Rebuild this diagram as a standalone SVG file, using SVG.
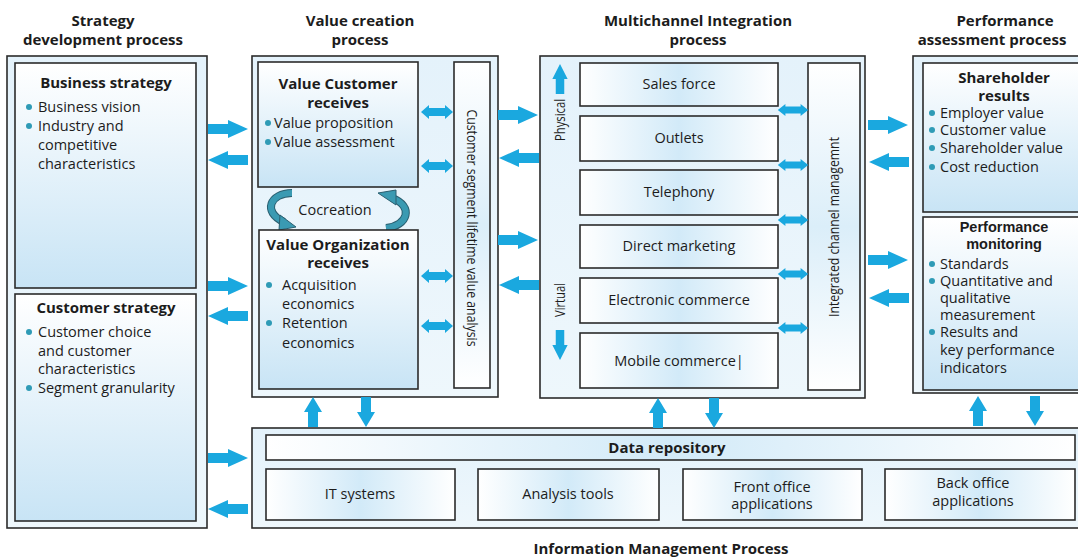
<svg xmlns="http://www.w3.org/2000/svg" width="1078" height="559" viewBox="0 0 1078 559">
<defs>
<linearGradient id="gOuter" x1="0" y1="0" x2="0" y2="1"><stop offset="0" stop-color="#e4f2fb"/><stop offset="1" stop-color="#eef7fc"/></linearGradient>
<linearGradient id="gInner" x1="0" y1="0" x2="0" y2="1"><stop offset="0" stop-color="#ffffff"/><stop offset="1" stop-color="#c8e4f5"/></linearGradient>
<linearGradient id="gChan" x1="0" y1="0" x2="1" y2="0"><stop offset="0" stop-color="#ffffff"/><stop offset="0.5" stop-color="#d2eaf8"/><stop offset="1" stop-color="#ffffff"/></linearGradient>
<linearGradient id="gBar" x1="0" y1="0" x2="0" y2="1"><stop offset="0" stop-color="#ffffff"/><stop offset="0.5" stop-color="#dbeef9"/><stop offset="1" stop-color="#ffffff"/></linearGradient>
<path id="A" d="M-20,-5 H0 V-9 L20,0 L0,9 V5 H-20 Z"/>
<path id="V" d="M-15,-5 H0 V-9 L15,0 L0,9 V5 H-15 Z"/>
<path id="D" d="M-16,0 L-8,-7 V-4 H8 V-7 L16,0 L8,7 V4 H-8 V7 Z"/>
</defs>
<style>
rect{stroke:#2b2b2b;stroke-width:1.6}
.outer{fill:url(#gOuter)}
.inner{fill:url(#gInner)}
.chan{fill:url(#gChan)}
.bar{fill:url(#gBar)}
text{font-family:"Open Sans","Liberation Sans",sans-serif;fill:#1c1c1c;font-size:14.5px}
.h{font-weight:bold;font-size:15px;text-anchor:middle}
.t{font-weight:bold;font-size:15px;text-anchor:middle}
.tn{font-family:"Liberation Sans",sans-serif;font-weight:bold;font-size:14.5px;text-anchor:middle}
.c{text-anchor:middle}
.arr{fill:#1aa8df}
.b{fill:#2f9bb6}
.cc{fill:none;stroke:#3a9ab2;stroke-width:6}
.cco{fill:none;stroke:#2a5f70;stroke-width:8}
</style>

<g id="headers">
<text class="h" x="103" y="26">Strategy</text>
<text class="h" x="103" y="45">development process</text>
<text class="h" x="360" y="26">Value creation</text>
<text class="h" x="360" y="45">process</text>
<text class="h" x="698" y="26">Multichannel Integration</text>
<text class="h" x="698" y="45">process</text>
<text class="h" x="1005" y="26">Performance</text>
<text class="h" x="992" y="45">assessment process</text>
</g>

<g id="strategy-development">
<rect class="outer" x="7" y="56" width="200" height="472"/>
<g id="business-strategy">
<rect class="inner" x="15" y="63" width="181" height="225"/>
<text class="t" x="106" y="88">Business strategy</text>
<circle class="b" cx="29" cy="107" r="3"/><text x="38" y="112">Business vision</text>
<circle class="b" cx="29" cy="126" r="3"/><text x="38" y="131">Industry and</text>
<text x="38" y="150">competitive</text>
<text x="38" y="169">characteristics</text>
</g>
<g id="customer-strategy">
<rect class="inner" x="15" y="294" width="181" height="227"/>
<text class="t" x="106" y="313">Customer strategy</text>
<circle class="b" cx="29" cy="332" r="3"/><text x="38" y="337">Customer choice</text>
<text x="38" y="356">and customer</text>
<text x="38" y="374">characteristics</text>
<circle class="b" cx="29" cy="388" r="3"/><text x="38" y="393">Segment granularity</text>
</g>
</g>

<g id="value-creation">
<rect class="outer" x="252" y="56" width="246" height="341"/>
<g id="value-customer">
<rect class="inner" x="258" y="62" width="160" height="125"/>
<text class="t" x="338" y="89">Value Customer</text>
<text class="t" x="338" y="108">receives</text>
<circle class="b" cx="268" cy="123" r="3"/><text x="274" y="128">Value proposition</text>
<circle class="b" cx="268" cy="142" r="3"/><text x="274" y="147">Value assessment</text>
</g>
<g id="cocreation">
<path class="cco" d="M292,193 C270,193 262,212 284,222"/>
<path class="cc" d="M292,193 C270,193 262,212 284,222"/>
<polygon fill="#3a9ab2" stroke="#2a5f70" stroke-width="1" points="280,215 296,227 279,230"/>
<path class="cco" d="M386,228 C408,226 414,206 392,198"/>
<path class="cc" d="M386,228 C408,226 414,206 392,198"/>
<polygon fill="#3a9ab2" stroke="#2a5f70" stroke-width="1" points="396,205 378,193 396,190"/>
<text class="c" x="335" y="215">Cocreation</text>
</g>
<g id="value-organization">
<rect class="inner" x="259" y="230" width="159" height="159"/>
<text class="t" x="338" y="250">Value Organization</text>
<text class="t" x="338" y="268">receives</text>
<circle class="b" cx="269" cy="285" r="3"/><text x="282" y="290">Acquisition</text>
<text x="282" y="309">economics</text>
<circle class="b" cx="269" cy="323" r="3"/><text x="282" y="328">Retention</text>
<text x="282" y="348">economics</text>
</g>
<g id="cslva">
<rect class="bar" x="454" y="62" width="36" height="326"/>
<text transform="translate(467,228) rotate(90)" text-anchor="middle" font-size="14" textLength="237" lengthAdjust="spacingAndGlyphs">Customer segment lifetime value analysis</text>
</g>
</g>

<g id="multichannel">
<rect class="outer" x="540" y="56" width="325" height="342"/>
<g id="sales-force"><rect class="chan" x="580" y="63" width="198" height="43"/><text class="c" x="679" y="89">Sales force</text></g>
<g id="outlets"><rect class="chan" x="580" y="116" width="198" height="45"/><text class="c" x="679" y="143">Outlets</text></g>
<g id="telephony"><rect class="chan" x="580" y="170" width="198" height="45"/><text class="c" x="679" y="197">Telephony</text></g>
<g id="direct-marketing"><rect class="chan" x="580" y="225" width="198" height="43"/><text class="c" x="679" y="251">Direct marketing</text></g>
<g id="electronic-commerce"><rect class="chan" x="580" y="278" width="198" height="45"/><text class="c" x="679" y="305">Electronic commerce</text></g>
<g id="mobile-commerce"><rect class="chan" x="580" y="333" width="198" height="55"/><text class="c" x="679" y="366">Mobile commerce|</text></g>
<g id="icm">
<rect class="bar" x="808" y="63" width="52" height="327"/>
<text transform="translate(839,227) rotate(-90)" text-anchor="middle" font-size="14" textLength="180" lengthAdjust="spacingAndGlyphs">Integrated channel managemnt</text>
</g>
<text transform="translate(565,120) rotate(-90)" text-anchor="middle" font-size="14" textLength="42" lengthAdjust="spacingAndGlyphs">Physical</text>
<text transform="translate(565,300) rotate(-90)" text-anchor="middle" font-size="14" textLength="34" lengthAdjust="spacingAndGlyphs">Virtual</text>
</g>

<g id="performance">
<rect class="outer" x="913" y="56" width="175" height="337"/>
<g id="shareholder-results">
<rect class="inner" x="923" y="63" width="165" height="149"/>
<text class="t" x="1004" y="83">Shareholder</text>
<text class="t" x="1004" y="101">results</text>
<circle class="b" cx="932" cy="113" r="3"/><text x="940" y="118">Employer value</text>
<circle class="b" cx="932" cy="130" r="3"/><text x="940" y="135">Customer value</text>
<circle class="b" cx="932" cy="148" r="3"/><text x="940" y="153">Shareholder value</text>
<circle class="b" cx="932" cy="167" r="3"/><text x="940" y="172">Cost reduction</text>
</g>
<g id="performance-monitoring">
<rect class="inner" x="923" y="217" width="165" height="173"/>
<text class="tn" x="1004" y="232">Performance</text>
<text class="tn" x="1004" y="249">monitoring</text>
<circle class="b" cx="932" cy="264" r="3"/><text x="940" y="269">Standards</text>
<circle class="b" cx="932" cy="281" r="3"/><text x="940" y="286">Quantitative and</text>
<text x="940" y="303">qualitative</text>
<text x="940" y="320">measurement</text>
<circle class="b" cx="932" cy="332" r="3"/><text x="940" y="337">Results and</text>
<text x="940" y="355">key performance</text>
<text x="940" y="373">indicators</text>
</g>
</g>

<g id="information-management">
<rect class="outer" x="252" y="428" width="836" height="100"/>
<g id="data-repository"><rect class="chan" x="266" y="435" width="809" height="25"/><text class="t" x="667" y="453">Data repository</text></g>
<g id="it-systems"><rect class="chan" x="266" y="469" width="189" height="51"/><text class="c" x="360" y="499">IT systems</text></g>
<g id="analysis-tools"><rect class="chan" x="478" y="469" width="181" height="51"/><text class="c" x="568" y="499">Analysis tools</text></g>
<g id="front-office"><rect class="chan" x="683" y="469" width="179" height="51"/><text class="c" x="772" y="492">Front office</text><text class="c" x="772" y="509">applications</text></g>
<g id="back-office"><rect class="chan" x="885" y="469" width="190" height="51"/><text class="c" x="973" y="488">Back office</text><text class="c" x="973" y="506">applications</text></g>
<text class="t" x="661" y="554">Information Management Process</text>
</g>

<g id="connectors" class="arr">
<use href="#A" transform="translate(228,129)"/>
<use href="#A" transform="translate(228,160) rotate(180)"/>
<use href="#A" transform="translate(228,286)"/>
<use href="#A" transform="translate(228,316) rotate(180)"/>
<use href="#A" transform="translate(228,458)"/>
<use href="#A" transform="translate(228,509) rotate(180)"/>
<use href="#A" transform="translate(518,115)"/>
<use href="#A" transform="translate(519,158) rotate(180)"/>
<use href="#A" transform="translate(518,240)"/>
<use href="#A" transform="translate(519,285) rotate(180)"/>
<use href="#A" transform="translate(888,125)"/>
<use href="#A" transform="translate(889,162) rotate(180)"/>
<use href="#A" transform="translate(888,260)"/>
<use href="#A" transform="translate(889,298) rotate(180)"/>
<use href="#D" transform="translate(437,112)"/>
<use href="#D" transform="translate(437,166)"/>
<use href="#D" transform="translate(437,276)"/>
<use href="#D" transform="translate(437,326)"/>
<use href="#D" transform="translate(793,110) scale(0.95,0.85)"/>
<use href="#D" transform="translate(793,165) scale(0.95,0.85)"/>
<use href="#D" transform="translate(793,220) scale(0.95,0.85)"/>
<use href="#D" transform="translate(793,274) scale(0.95,0.85)"/>
<use href="#D" transform="translate(793,328) scale(0.95,0.85)"/>
<use href="#V" transform="translate(560,79) rotate(-90) scale(1,0.85)"/>
<use href="#V" transform="translate(560,345) rotate(90) scale(1,0.85)"/>
<use href="#V" transform="translate(313,412) rotate(-90)"/>
<use href="#V" transform="translate(366,412) rotate(90)"/>
<use href="#V" transform="translate(658,413) rotate(-90)"/>
<use href="#V" transform="translate(714,413) rotate(90)"/>
<use href="#V" transform="translate(978,411) rotate(-90)"/>
<use href="#V" transform="translate(1035,411) rotate(90)"/>
</g>
</svg>
